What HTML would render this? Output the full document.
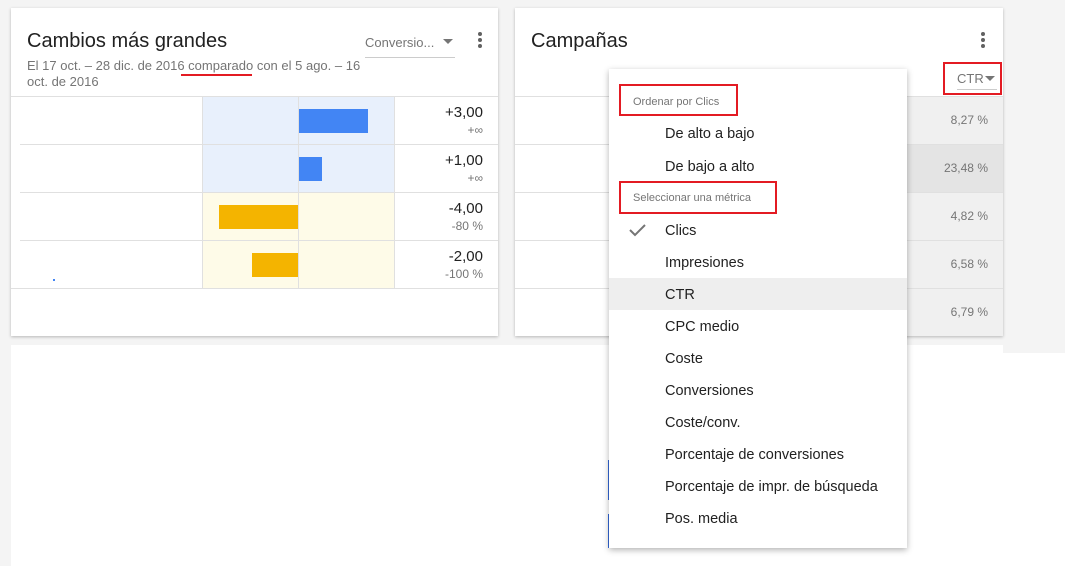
<!DOCTYPE html>
<html><head><style>
*{margin:0;padding:0;box-sizing:border-box}
body{width:1065px;height:566px;background:#f4f4f4;position:relative;overflow:hidden;font-family:"Liberation Sans",Roboto,sans-serif;color:#212121}
.a{position:absolute}
.card{position:absolute;background:#fff;box-shadow:0 1px 3px rgba(0,0,0,.25)}
.hl{position:absolute;height:1px;background:#e0e0e0}
.vl{position:absolute;width:1px;background:#e0e0e0}
.val{position:absolute;right:15px;text-align:right;font-size:15px;line-height:18px}
.sub{font-size:12px;line-height:16px;color:#757575}
.mi{position:absolute;left:56px;font-size:14.5px;color:#212121}
.red{position:absolute;border:2px solid #e31b23}
.pv{position:absolute;right:15px;font-size:12px;color:#757575}
</style></head><body>
<div class="a" style="left:11px;top:345px;width:1054px;height:221px;background:#fff"></div>
<div class="a" style="left:1003px;top:345px;width:62px;height:8px;background:#f4f4f4"></div>

<div class="card" style="left:11px;top:8px;width:487px;height:328px">
 <div class="a" style="left:16px;top:22px;font-size:20px">Cambios más grandes</div>
 <div class="a" style="left:354px;top:27px;font-size:13px;color:#757575">Conversio...</div>
 <div class="a" style="left:432px;top:31px;border-left:5px solid transparent;border-right:5px solid transparent;border-top:5px solid #757575"></div>
 <div class="a" style="left:354px;top:49px;width:90px;height:1px;background:#ccc"></div>
 <div class="a" style="left:467px;top:24px;width:4px;height:4px;border-radius:2px;background:#616161;box-shadow:0 6px 0 #616161,0 12px 0 #616161"></div>
 <div class="a" style="left:16px;top:50px;font-size:13px;color:#757575;line-height:16px;width:345px">El 17 oct. – 28 dic. de 2016 comparado con el 5 ago. – 16 oct. de 2016</div>
 <div class="a" style="left:170px;top:66px;width:71px;height:2px;background:#e31b23"></div>
 <div class="hl" style="left:0;top:88px;width:487px"></div>
 <div class="a" style="left:191px;top:89px;width:192px;height:96px;background:#e8f0fc"></div>
 <div class="a" style="left:191px;top:185px;width:192px;height:95px;background:#fefbe8"></div>
 <div class="a" style="left:288px;top:101px;width:69px;height:24px;background:#4285f4"></div>
 <div class="a" style="left:288px;top:149px;width:23px;height:24px;background:#4285f4"></div>
 <div class="a" style="left:208px;top:197px;width:79px;height:24px;background:#f4b400"></div>
 <div class="a" style="left:241px;top:245px;width:46px;height:24px;background:#f4b400"></div>
 <div class="vl" style="left:191px;top:88px;height:192px"></div>
 <div class="vl" style="left:287px;top:88px;height:192px"></div>
 <div class="vl" style="left:383px;top:88px;height:192px"></div>
 <div class="hl" style="left:9px;top:136px;width:478px"></div>
 <div class="hl" style="left:9px;top:184px;width:478px"></div>
 <div class="hl" style="left:9px;top:232px;width:478px"></div>
 <div class="hl" style="left:0;top:280px;width:487px"></div>
 <div class="a" style="left:42px;top:271px;width:2px;height:2px;background:#4285f4"></div>
 <div class="val" style="top:96px">+3,00<div class="sub">+∞</div></div>
 <div class="val" style="top:144px">+1,00<div class="sub">+∞</div></div>
 <div class="val" style="top:192px">-4,00<div class="sub">-80 %</div></div>
 <div class="val" style="top:240px">-2,00<div class="sub">-100 %</div></div>
</div>

<div class="card" style="left:515px;top:8px;width:488px;height:328px">
 <div class="a" style="left:16px;top:22px;font-size:20px">Campañas</div>
 <div class="a" style="left:466px;top:24px;width:4px;height:4px;border-radius:2px;background:#616161;box-shadow:0 6px 0 #616161,0 12px 0 #616161"></div>
 <div class="a" style="left:442px;top:63px;font-size:13px;color:#757575">CTR</div>
 <div class="a" style="left:470px;top:68px;border-left:5px solid transparent;border-right:5px solid transparent;border-top:5px solid #757575"></div>
 <div class="a" style="left:442px;top:81px;width:40px;height:1px;background:#ccc"></div>
 <div class="hl" style="left:0;top:88px;width:488px"></div>
 <div class="a" style="left:392px;top:89px;width:96px;height:47px;background:#f0f0f0"></div>
 <div class="a" style="left:392px;top:137px;width:96px;height:47px;background:#e4e4e4"></div>
 <div class="a" style="left:392px;top:185px;width:96px;height:143px;background:#f0f0f0"></div>
 <div class="hl" style="left:0;top:136px;width:488px"></div>
 <div class="hl" style="left:0;top:184px;width:488px"></div>
 <div class="hl" style="left:0;top:232px;width:488px"></div>
 <div class="hl" style="left:0;top:280px;width:488px"></div>
 <div class="pv" style="top:105px">8,27 %</div>
 <div class="pv" style="top:153px">23,48 %</div>
 <div class="pv" style="top:201px">4,82 %</div>
 <div class="pv" style="top:249px">6,58 %</div>
 <div class="pv" style="top:297px">6,79 %</div>
</div>
<div class="red" style="left:943px;top:62px;width:59px;height:33px"></div>

<div class="a" style="left:608px;top:460px;width:2px;height:40px;background:#3367d6"></div>
<div class="a" style="left:608px;top:514px;width:2px;height:34px;background:#3367d6"></div>

<div class="card" style="left:609px;top:69px;width:298px;height:479px;box-shadow:0 2px 6px rgba(0,0,0,.3)">
 <div class="a" style="left:24px;top:27px;font-size:11px;color:#757575">Ordenar por Clics</div>
 <div class="mi" style="top:57px">De alto a bajo</div>
 <div class="mi" style="top:90px">De bajo a alto</div>
 <div class="a" style="left:24px;top:123px;font-size:11px;color:#757575">Seleccionar una métrica</div>
 <svg class="a" style="left:19px;top:153px" width="20" height="16"><path d="M2 8 L7 13 L17 3" stroke="#757575" stroke-width="2" fill="none"/></svg>
 <div class="mi" style="top:154px">Clics</div>
 <div class="mi" style="top:186px">Impresiones</div>
 <div class="a" style="left:0;top:209px;width:298px;height:32px;background:#eeeeee"></div>
 <div class="mi" style="top:218px">CTR</div>
 <div class="mi" style="top:250px">CPC medio</div>
 <div class="mi" style="top:282px">Coste</div>
 <div class="mi" style="top:314px">Conversiones</div>
 <div class="mi" style="top:346px">Coste/conv.</div>
 <div class="mi" style="top:378px">Porcentaje de conversiones</div>
 <div class="mi" style="top:410px">Porcentaje de impr. de búsqueda</div>
 <div class="mi" style="top:442px">Pos. media</div>
</div>
<div class="red" style="left:619px;top:84px;width:119px;height:32px"></div>
<div class="red" style="left:619px;top:181px;width:158px;height:33px"></div>
</body></html>
